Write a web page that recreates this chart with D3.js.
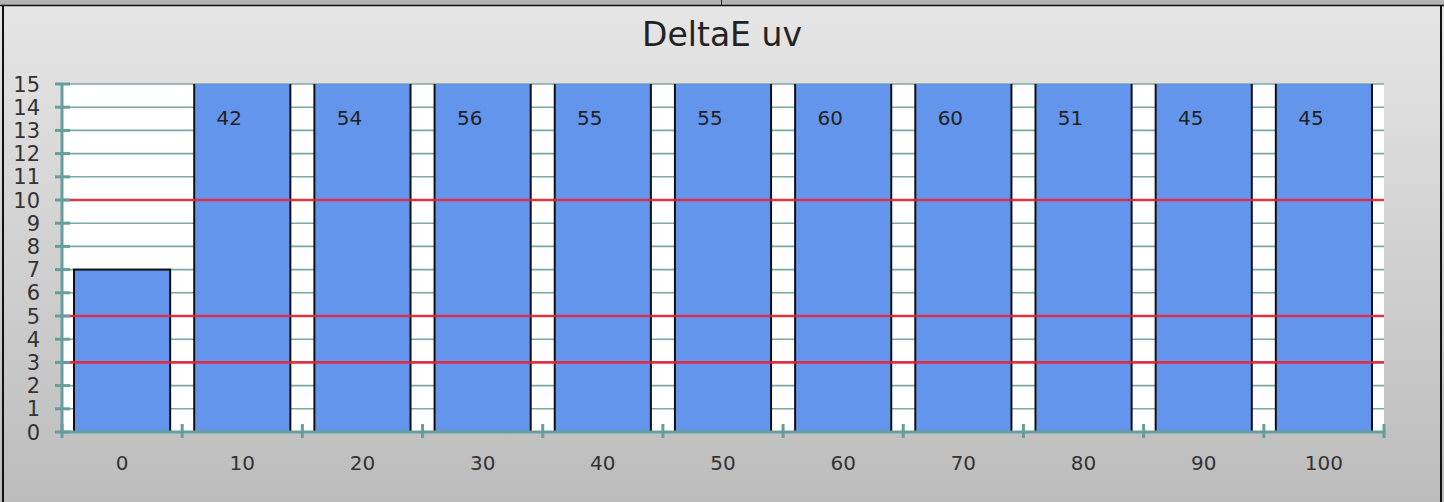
<!DOCTYPE html>
<html>
<head>
<meta charset="utf-8">
<script src="https://cdn.jsdelivr.net/npm/d3@7"></script>
<style>
html,body{margin:0;padding:0;background:#c8c8c8;}
svg{display:block;}
</style>
</head>
<body>
<svg id="chart" width="1444" height="502"></svg>
<script>
const categories = ["0","10","20","30","40","50","60","70","80","90","100"];
const values = [7,42,54,56,55,55,60,60,51,45,45];
const yTicks = [0,1,2,3,4,5,6,7,8,9,10,11,12,13,14,15];
const refLines = [3,5,10];
const title = "DeltaE uv";

const W = 1444, H = 502;
const svg = d3.select("#chart");
const FONT = "'DejaVu Sans', Verdana, sans-serif";

// background
const defs = svg.append("defs");
const grad = defs.append("linearGradient").attr("id","bg").attr("x1",0).attr("y1",0).attr("x2",0).attr("y2",1);
grad.append("stop").attr("offset","0%").attr("stop-color","#e6e6e6");
grad.append("stop").attr("offset","100%").attr("stop-color","#bcbcbc");
svg.append("rect").attr("x",0).attr("y",0).attr("width",W).attr("height",H).attr("fill","url(#bg)");
// top strip
svg.append("rect").attr("x",0).attr("y",0).attr("width",W).attr("height",5).attr("fill","#b2b2b2");
svg.append("line").attr("x1",0).attr("x2",W).attr("y1",5.5).attr("y2",5.5).attr("stroke","#111").attr("stroke-width",1.5);
svg.append("line").attr("x1",721.5).attr("x2",721.5).attr("y1",0).attr("y2",5).attr("stroke","#222").attr("stroke-width",1);
// frame sides
svg.append("line").attr("x1",3).attr("x2",3).attr("y1",5).attr("y2",H).attr("stroke","#111").attr("stroke-width",2);
svg.append("line").attr("x1",1441).attr("x2",1441).attr("y1",5).attr("y2",H).attr("stroke","#111").attr("stroke-width",2);

// scales
const x = d3.scaleBand().domain(categories).range([62,1384]).paddingInner(0.2).paddingOuter(0.1);
const y = d3.scaleLinear().domain([0,15]).range([432,84]);
const [x0,x1] = x.range();

// plot area
svg.append("rect").attr("x",x0).attr("y",y(15)).attr("width",x1-x0).attr("height",y(0)-y(15)).attr("fill","#ffffff");

// gridlines
svg.append("g").selectAll("line").data(yTicks).join("line")
  .attr("x1",x0).attr("x2",x1).attr("y1",d=>y(d)).attr("y2",d=>y(d))
  .attr("stroke","#7aa8a5").attr("stroke-width",1.6);

// bars (clipped to plot)
defs.append("clipPath").attr("id","plotclip").append("rect")
  .attr("x",x0).attr("y",y(15)).attr("width",x1-x0).attr("height",y(0)-y(15));
const data = categories.map((c,i)=>({c, v: values[i]}));
svg.append("g").attr("clip-path","url(#plotclip)").selectAll("rect").data(data).join("rect")
  .attr("x",d=>x(d.c)).attr("width",x.bandwidth())
  .attr("y",d=>y(Math.min(d.v,15.2))).attr("height",d=>y(0)-y(Math.min(d.v,15.2)))
  .attr("fill","#6495ed").attr("stroke","#111").attr("stroke-width",2);

// value labels for off-scale bars
svg.append("g").selectAll("text").data(data.filter(d=>d.v>15)).join("text")
  .attr("x",d=>x(d.c)+x.bandwidth()/2-13).attr("y",y(15)+41)
  .attr("text-anchor","middle").attr("font-family",FONT).attr("font-size",20)
  .attr("fill","#222").text(d=>d.v);

// reference lines
svg.append("g").selectAll("line").data(refLines).join("line")
  .attr("x1",x0).attr("x2",x1).attr("y1",d=>y(d)).attr("y2",d=>y(d))
  .attr("stroke","#e2253a").attr("stroke-opacity",0.9).attr("stroke-width",2.6);

// y axis
const axisColor = "#669e9b";
svg.append("line").attr("x1",x0).attr("x2",x0).attr("y1",y(15)).attr("y2",y(0)+1.5)
  .attr("stroke",axisColor).attr("stroke-width",3);
svg.append("g").selectAll("line").data(yTicks).join("line")
  .attr("x1",55).attr("x2",70).attr("y1",d=>y(d)).attr("y2",d=>y(d))
  .attr("stroke",axisColor).attr("stroke-width",3);
svg.append("g").selectAll("text").data(yTicks).join("text")
  .attr("x",40).attr("y",d=>y(d)).attr("dy","0.36em")
  .attr("text-anchor","end").attr("font-family",FONT).attr("font-size",21)
  .attr("fill","#333").text(d=>d);

// x axis
svg.append("line").attr("x1",x0-1.5).attr("x2",x1+1.5).attr("y1",y(0)).attr("y2",y(0))
  .attr("stroke",axisColor).attr("stroke-width",3);
const bounds = d3.range(categories.length+1).map(i=>x0+i*x.step());
svg.append("g").selectAll("line").data(bounds).join("line")
  .attr("x1",d=>d).attr("x2",d=>d).attr("y1",y(0)-8).attr("y2",y(0)+6)
  .attr("stroke",axisColor).attr("stroke-width",3);
svg.append("g").selectAll("text").data(categories).join("text")
  .attr("x",d=>x(d)+x.bandwidth()/2).attr("y",470)
  .attr("text-anchor","middle").attr("font-family",FONT).attr("font-size",20)
  .attr("fill","#333").text(d=>d);

// title
svg.append("text").attr("x",722).attr("y",46).attr("text-anchor","middle")
  .attr("font-family",FONT).attr("font-size",33).attr("fill","#222").text(title);
</script>
</body>
</html>
